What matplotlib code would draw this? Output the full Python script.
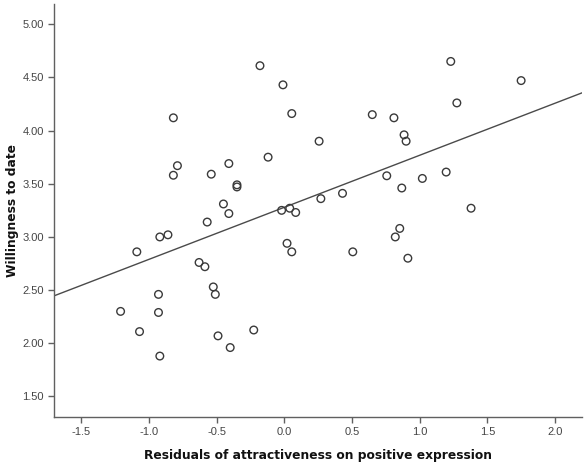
import matplotlib
matplotlib.use('Agg')
import matplotlib.pyplot as plt
import numpy as np

# Residuals of attractiveness on positive expression (x) vs willingness to date (y)
resid = [-0.18, -0.01, 0.055, -0.82, -0.12, -0.79, -0.82, -0.41, -0.54, -0.35,
         -0.35, -0.45, -0.41, -0.57, -0.02, 0.04, 0.084, -0.92, -0.86,
         1.23, 1.75, 1.275, 0.65, 0.81, 0.257, 0.885, 0.90, 0.757, 1.02,
         1.196, 0.868, 0.43, 0.27, 1.38, 0.853, 0.82,
         0.02, 0.055, -1.09, -0.63, -0.587, -0.525, -0.51, -0.93, -1.21,
         -0.93, -1.07, -0.226, -0.49, -0.40, -0.92,
         0.506, 0.913]
willing = [4.61, 4.43, 4.16, 4.12, 3.75, 3.67, 3.58, 3.69, 3.59, 3.49,
           3.47, 3.31, 3.22, 3.14, 3.25, 3.27, 3.23, 3.00, 3.02,
           4.65, 4.47, 4.26, 4.15, 4.12, 3.90, 3.96, 3.90, 3.575, 3.55,
           3.61, 3.46, 3.41, 3.36, 3.27, 3.08, 3.00,
           2.94, 2.86, 2.86, 2.76, 2.72, 2.53, 2.46, 2.46, 2.30,
           2.29, 2.11, 2.125, 2.07, 1.96, 1.88,
           2.86, 2.80]

xticks = [-1.5, -1.0, -0.5, 0.0, 0.5, 1.0, 1.5, 2.0]
yticks = [1.5, 2.0, 2.5, 3.0, 3.5, 4.0, 4.5, 5.0]
xlim = (-1.70, 2.20)
ylim = (1.31, 5.19)

fig = plt.figure(figsize=(5.85, 4.66), dpi=100)
ax = fig.add_axes([0.0928, 0.1058, 0.9021, 0.8856])

ax.scatter(resid, willing, s=30, facecolors='none', edgecolors='#3a3a3a',
           linewidths=1.0, zorder=3)

# Linear fit line across the whole x range
slope, intercept = np.polyfit(resid, willing, 1)
xs = np.array(xlim)
ax.plot(xs, intercept + slope * xs, color='#4a4a4a', lw=1.0, zorder=2)

ax.set_xlim(*xlim)
ax.set_ylim(*ylim)
ax.set_xticks(xticks)
ax.set_xticklabels(['%.1f' % t for t in xticks])
ax.set_yticks(yticks)
ax.set_yticklabels(['%.2f' % t for t in yticks])

for side in ['top', 'right']:
    ax.spines[side].set_visible(False)
for side in ['left', 'bottom']:
    ax.spines[side].set_color('#606060')
    ax.spines[side].set_linewidth(1.0)
ax.tick_params(direction='out', length=4, width=1.0, color='#606060',
               labelcolor='#454545', labelsize=8)
for lbl in ax.get_xticklabels() + ax.get_yticklabels():
    lbl.set_family('Liberation Sans')

ax.set_xlabel('Residuals of attractiveness on positive expression',
              fontsize=8.8, fontweight='bold', color='#111111')
ax.set_ylabel('Willingness to date', fontsize=8.8, fontweight='bold',
              color='#111111')
ax.xaxis.set_label_coords(0.5, -0.093)
ax.yaxis.set_label_coords(-0.080, 0.5)
ax.xaxis.label.set_va('center')
ax.yaxis.label.set_va('center')

fig.savefig('out.png', dpi=100)
